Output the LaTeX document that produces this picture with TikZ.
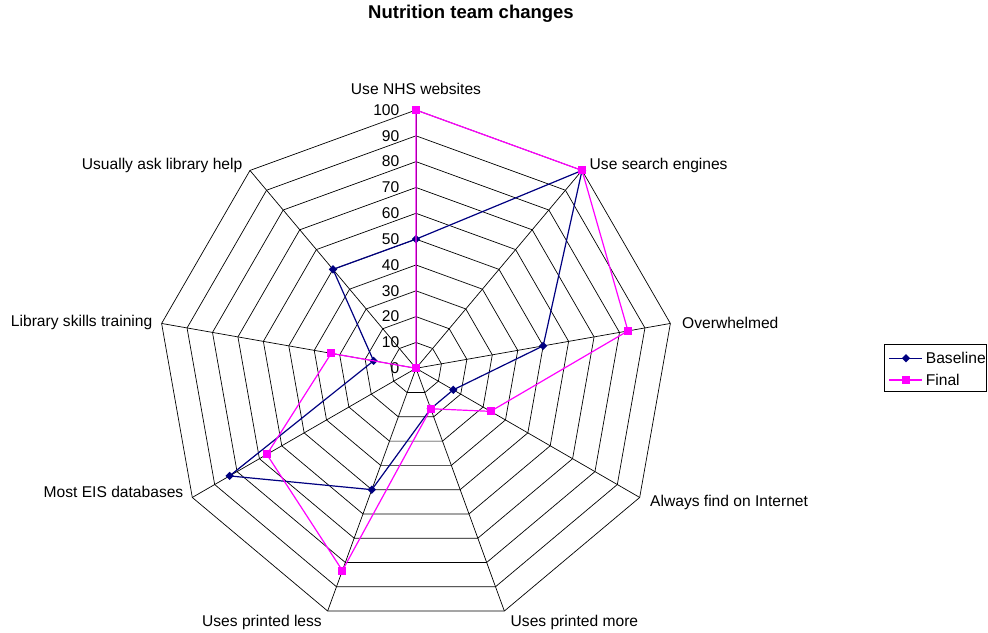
\documentclass[tikz,border=0pt]{standalone}
\usepackage{fontspec}
\setmainfont{Liberation Sans}
\usetikzlibrary{shapes.geometric}
\definecolor{basenavy}{RGB}{0,0,128}
\definecolor{finalpink}{RGB}{255,0,255}
\tikzset{
  gridline/.style={black,line width=0.7pt},
  lbl/.style={inner sep=0pt,font=\fontsize{15.6}{18}\selectfont},
  basemark/.style={diamond,fill=basenavy,inner sep=0pt,minimum size=8.5pt},
  finalmark/.style={rectangle,fill=finalpink,inner sep=0pt,minimum size=8pt},
  baseline line/.style={basenavy,line width=1.2pt},
  final line/.style={finalpink,line width=1.2pt}
}
\begin{document}
\begin{tikzpicture}[x=1pt,y=1pt]
        \def\u{2.583}
        \useasboundingbox (-416,-263.7) rectangle (572,368.3);

        % rings and spokes
        \foreach \k in {1,...,10} {
          \draw[gridline] (90:\k*10*\u) -- (50:\k*10*\u) -- (10:\k*10*\u) -- (-30:\k*10*\u)
            -- (-70:\k*10*\u) -- (-110:\k*10*\u) -- (-150:\k*10*\u) -- (170:\k*10*\u)
            -- (130:\k*10*\u) -- cycle;
        }
        \coordinate (c) at (0,0);
        \foreach \a [count=\i] in {90,50,10,-30,-70,-110,-150,170,130} {
          \coordinate (s\i) at (\a:100*\u);
          \draw[gridline] (c) -- (s\i);
        }

        % scale values
        \foreach \k in {0,...,10} {
          \pgfmathtruncatemacro{\val}{\k*10}
          \node (t\k) at (-16.5,\k*10*\u-5.3) [lbl,anchor=base east] {\val};
        }

        % category names
        \node (nhs) at (0,273.3) [lbl,anchor=base] {Use NHS websites};
        \node (search) at (173.5,199) [lbl,anchor=base west] {Use search engines};
        \node (overw) at (266,40) [lbl,anchor=base west] {Overwhelmed};
        \node (always) at (234,-138.4) [lbl,anchor=base west] {Always find on Internet};
        \node (pmore) at (94.5,-258.4) [lbl,anchor=base west] {Uses printed more};
        \node (pless) at (-94,-258.4) [lbl,anchor=base east] {Uses printed less};
        \node (eis) at (-232.5,-129.4) [lbl,anchor=base east] {Most EIS databases};
        \node (skills) at (-263.5,41.6) [lbl,anchor=base east] {Library skills training};
        \node (usually) at (-173.5,199) [lbl,anchor=base east] {Usually ask library help};

        \node (title) at (55,350) [inner sep=0pt,anchor=base,font=\fontsize{18.5}{22}\bfseries] {Nutrition team changes};

        % baseline
        \foreach \a/\v [count=\i] in {90/50,50/100,10/50,-30/16.67,-70/16.67,-110/50,-150/83.33,170/16.67,130/50}
          \coordinate (bp\i) at (\a:\v*\u);
        \draw[baseline line] (bp1) -- (bp2) -- (bp3) -- (bp4) -- (bp5) -- (bp6) -- (bp7) -- (bp8) -- (bp9) -- cycle;
        \foreach \i in {1,...,9}
          \node (b\i) at (bp\i) [basemark] {};

        % final
        \foreach \a/\v [count=\i] in {90/100,50/100,10/83.33,-30/33.33,-70/16.67,-110/83.33,-150/66.67,170/33.33,130/0}
          \coordinate (fp\i) at (\a:\v*\u);
        \draw[final line] (fp1) -- (fp2) -- (fp3) -- (fp4) -- (fp5) -- (fp6) -- (fp7) -- (fp8) -- (fp9) -- cycle;
        \foreach \i in {1,...,9}
          \node (f\i) at (fp\i) [finalmark] {};

        % legend
        \draw[line width=0.7pt] (468.3,-22.7) rectangle (570.7,24.3);
        \coordinate (lb1) at (473,10);
        \coordinate (lb2) at (505.7,10);
        \draw[baseline line] (lb1) -- (lb2);
        \node (lbm) at (490,10) [basemark] {};
        \node (lbt) at (509.7,10) [lbl,anchor=west] {Baseline};
        \coordinate (lf1) at (473,-11.7);
        \coordinate (lf2) at (505.7,-11.7);
        \draw[final line] (lf1) -- (lf2);
        \node (lfm) at (490,-11.7) [finalmark] {};
        \node (lft) at (509.7,-11.7) [lbl,anchor=west] {Final};
      \end{tikzpicture}
\end{document}
